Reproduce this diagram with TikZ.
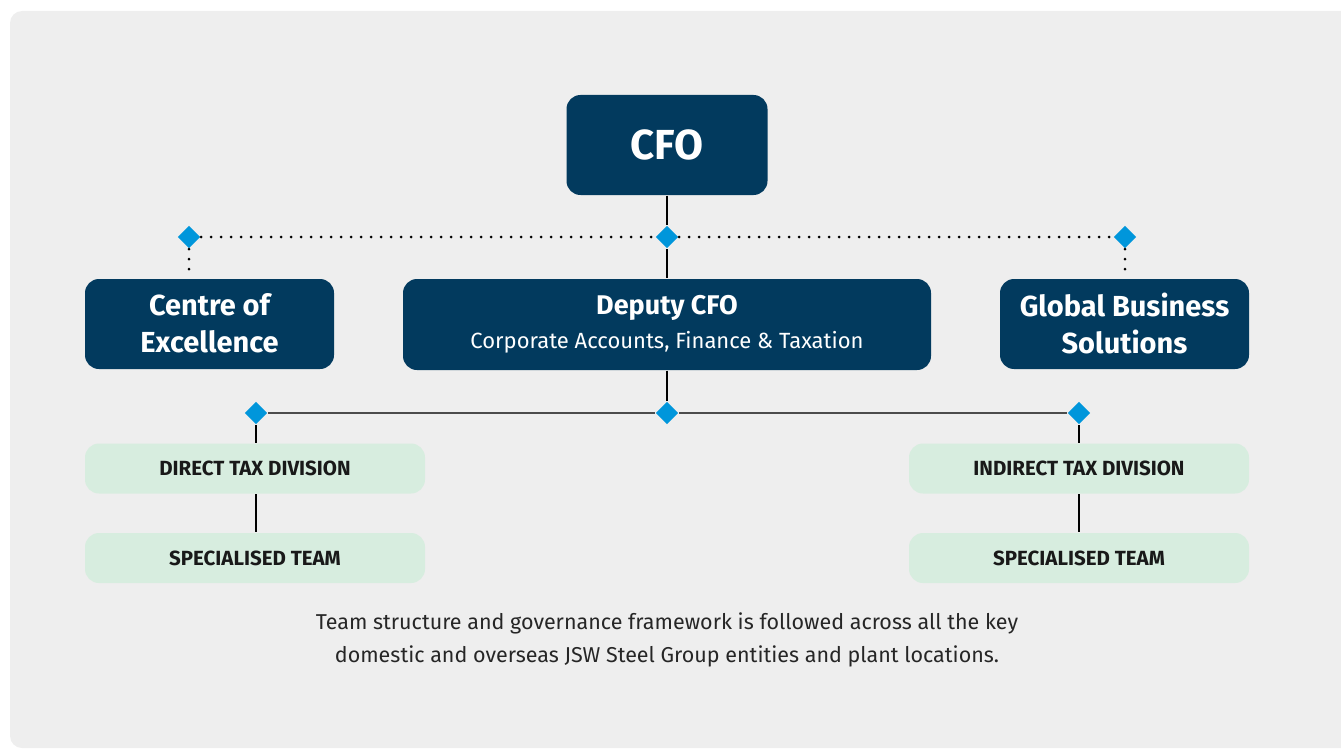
\documentclass[tikz,border=0pt]{standalone}
\usepackage{fontspec}
\setmainfont{Fira Sans}
\usetikzlibrary{shapes.geometric}

\definecolor{navy}{HTML}{023A5E}
\definecolor{jswblue}{HTML}{0096DB}
\definecolor{panel}{HTML}{EEEEEE}
\definecolor{mint}{HTML}{D7EDDF}

\tikzset{
    head/.style={fill=navy, text=white, rounded corners=14pt, inner sep=0pt, align=center, font=\bfseries},
    team/.style={fill=mint, text=black!90, rounded corners=14pt, inner sep=0pt, minimum width=340, minimum height=50, font=\fontsize{20.5}{22}\selectfont\bfseries},
    gem/.style={diamond, fill=jswblue, inner sep=0pt, minimum width=23, minimum height=23},
    dots/.style={line width=3pt, line cap=round, dash pattern=on 0pt off 10pt},
}

\begin{document}
\begin{tikzpicture}[x=1pt, y=-1pt, line width=1.3pt]
                    \useasboundingbox (0,0) rectangle (1341,749);
                    \fill[panel, rounded corners=12pt] (10,11) rectangle (1380,748);

                    % top level
                    \node[head, minimum width=201, minimum height=100, font=\fontsize{42}{44}\selectfont\bfseries] (cfo) at (667,145) {CFO};

                    \node[gem] (d1) at (189,237) {};
                    \node[gem] (d2) at (667,237) {};
                    \node[gem] (d3) at (1125,237) {};

                    \node[head, minimum width=249, minimum height=90, font=\fontsize{29}{37}\selectfont\bfseries] (coe) at (209.5,324) {\raisebox{2pt}{Centre of}\\\raisebox{2pt}{Excellence}};
                    \node[head, minimum width=528, minimum height=91] (dep) at (667,324.5) {{\fontsize{27}{30}\selectfont\bfseries Deputy CFO}\\[10pt]{\fontsize{22}{26}\selectfont\mdseries Corporate Accounts, Finance \& Taxation}};
                    \node[head, minimum width=249, minimum height=90, font=\fontsize{29}{37}\selectfont\bfseries] (gbs) at (1124.5,324) {\raisebox{2pt}{Global Business}\\\raisebox{2pt}{Solutions}};

                    \draw (cfo) to (d2);
                    \draw (d2) to (dep);
                    \draw[dots] (d1) to (d2);
                    \draw[dots] (d2) to (d3);
                    \draw[dots] (d1) to (d1 |- coe.north);
                    \draw[dots] (d3) to (d3 |- gbs.north);

                    % tax divisions
                    \node[gem] (d4) at (256,413) {};
                    \node[gem] (d5) at (667,413) {};
                    \node[gem] (d6) at (1079,413) {};

                    \node[team] (dtd) at (255,468.5) {DIRECT TAX DIVISION};
                    \node[team] (st1) at (255,558) {SPECIALISED TEAM};
                    \node[team] (itd) at (1079,468.5) {INDIRECT TAX DIVISION};
                    \node[team] (st2) at (1079,558) {SPECIALISED TEAM};

                    \draw (dep) to (d5);
                    \draw[black!70, line width=2pt] (d4) to (d5);
                    \draw[black!70, line width=2pt] (d5) to (d6);
                    \draw (d4) to (d4 |- dtd.north);
                    \draw (d4 |- dtd.south) to (d4 |- st1.north);
                    \draw (d6) to (itd);
                    \draw (itd) to (st2);

                    \node[align=center, text=black!85, font=\fontsize{21.5}{33}\selectfont] (note) at (667,640) {Team structure and governance framework is followed across all the key\\domestic and overseas JSW Steel Group entities and plant locations.};
                \end{tikzpicture}
\end{document}
